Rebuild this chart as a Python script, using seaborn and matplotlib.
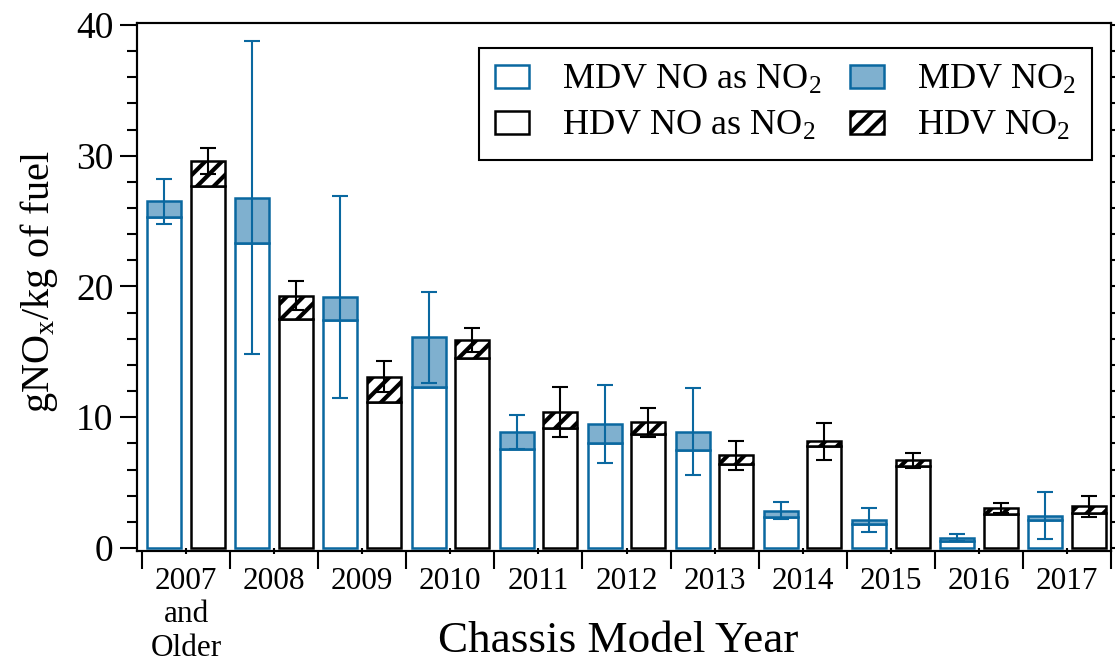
import numpy as np
import pandas as pd
import matplotlib
matplotlib.use("Agg")
import matplotlib.pyplot as plt
from matplotlib.patches import Patch
from matplotlib.ticker import MultipleLocator
import seaborn as sns

# ---- data ----
years = ["2007\nand\nOlder", "2008", "2009", "2010", "2011", "2012",
         "2013", "2014", "2015", "2016", "2017"]
mdv_no = [25.3, 23.3, 17.4, 12.3, 7.6, 8.0, 7.5, 2.4, 1.85, 0.55, 2.15]
mdv_no2 = [1.2, 3.5, 1.8, 3.8, 1.27, 1.5, 1.4, 0.45, 0.3, 0.25, 0.3]
mdv_err = [1.7, 12.0, 7.7, 3.45, 1.3, 3.0, 3.3, 0.65, 0.9, 0.3, 1.8]
hdv_no = [27.7, 17.5, 11.2, 14.5, 9.2, 8.7, 6.4, 7.8, 6.3, 2.6, 2.7]
hdv_no2 = [1.9, 1.8, 1.9, 1.4, 1.2, 0.9, 0.7, 0.35, 0.4, 0.45, 0.5]
hdv_err = [1.0, 1.1, 1.2, 0.9, 1.9, 1.1, 1.1, 1.4, 0.55, 0.4, 0.8]
legend_labels = [r"MDV NO as NO$_\mathrm{2}$", r"HDV NO as NO$_\mathrm{2}$",
                 r"MDV NO$_\mathrm{2}$", r"HDV NO$_\mathrm{2}$"]

BLUE = "#0a68a0"
LIGHT = "#7fb0cf"

sns.set_theme(style="ticks")
plt.rcParams["font.family"] = ["Liberation Serif", "DejaVu Serif"]
plt.rcParams["mathtext.fontset"] = "custom"
plt.rcParams["mathtext.rm"] = "Liberation Serif"
plt.rcParams["mathtext.it"] = "Liberation Serif:italic"
plt.rcParams["hatch.linewidth"] = 3.0
plt.rcParams["axes.linewidth"] = 1.5
for k in ["axes.edgecolor", "xtick.color", "ytick.color", "text.color", "axes.labelcolor"]:
    plt.rcParams[k] = "black"

fig = plt.figure(figsize=(11.15, 6.64), dpi=100)
ax = fig.add_axes([0.1229, 0.1702, 0.8735, 0.7952])

df = pd.DataFrame({
    "year": years * 2,
    "type": ["MDV"] * len(years) + ["HDV"] * len(years),
    "no": mdv_no + hdv_no,
})
sns.barplot(data=df, x="year", y="no", hue="type", hue_order=["MDV", "HDV"],
            order=years, palette={"MDV": "white", "HDV": "white"},
            width=0.99, gap=0.22, dodge=True, edgecolor="black", linewidth=1.8,
            legend=False, errorbar=None, saturation=1, ax=ax)

patches = sorted(ax.patches, key=lambda p: p.get_x())
mdv_p = patches[0::2]
hdv_p = patches[1::2]
for p in mdv_p:
    p.set_edgecolor(BLUE)

x_mdv = [p.get_x() + p.get_width() / 2 for p in mdv_p]
x_hdv = [p.get_x() + p.get_width() / 2 for p in hdv_p]
w = mdv_p[0].get_width()

ax.bar(x_mdv, mdv_no2, width=w, bottom=mdv_no, facecolor=LIGHT,
       edgecolor=BLUE, linewidth=1.8)
ax.bar(x_hdv, hdv_no2, width=w, bottom=hdv_no, facecolor="white",
       edgecolor="black", linewidth=1.8, hatch="//")

mdv_tot = np.add(mdv_no, mdv_no2)
hdv_tot = np.add(hdv_no, hdv_no2)
ax.errorbar(x_mdv, mdv_tot, yerr=mdv_err, fmt="none", ecolor=BLUE,
            elinewidth=1.5, capsize=5.5, capthick=1.5, zorder=5)
ax.errorbar(x_hdv, hdv_tot, yerr=hdv_err, fmt="none", ecolor="black",
            elinewidth=1.5, capsize=5.5, capthick=1.5, zorder=5)

ax.set_xlim(-0.557, 10.49)
ax.set_ylim(-0.23, 40.15)

ax.set_yticks([0, 10, 20, 30, 40])
ax.yaxis.set_minor_locator(MultipleLocator(2))
ax.tick_params(axis="y", which="major", length=12, width=1.5, labelsize=27,
               pad=5, direction="out")
ax.tick_params(axis="y", which="minor", length=7, width=1.5, direction="out")

ax.set_xticks(range(len(years)))
ax.set_xticklabels(years, linespacing=1.2)
ax.set_xticks(np.arange(-0.5, len(years), 1), minor=True)
ax.tick_params(axis="x", which="major", length=5, width=1.5, labelsize=22.5,
               pad=9, direction="inout")
ax.tick_params(axis="x", which="minor", length=13, width=1.5, direction="out")

ax.set_xlabel("Chassis Model Year", fontsize=32.5)
ax.xaxis.set_label_coords(0.494, -0.133)
ax.set_ylabel(r"gNO$_\mathrm{x}$/kg of fuel", fontsize=29)
ax.yaxis.set_label_coords(-0.079, 0.509)

for s in ax.spines.values():
    s.set_linewidth(1.5)
    s.set_color("black")

ax2 = ax.twinx()
ax2.set_ylim(ax.get_ylim())
ax2.set_yticks(np.arange(0, 41, 2))
ax2.set_yticklabels([])
ax2.tick_params(axis="y", length=6, width=1.5, direction="out")
for s in ax2.spines.values():
    s.set_linewidth(1.5)

handles = [
    Patch(facecolor="white", edgecolor=BLUE, linewidth=1.8),
    Patch(facecolor="white", edgecolor="black", linewidth=1.8),
    Patch(facecolor=LIGHT, edgecolor=BLUE, linewidth=1.8),
    Patch(facecolor="white", edgecolor="black", linewidth=1.8, hatch="//"),
]
leg = ax.legend(handles, legend_labels, ncol=2, loc="upper right",
                bbox_to_anchor=(0.9805, 0.9527), borderaxespad=0, fontsize=26,
                frameon=True, fancybox=False, edgecolor="black", framealpha=1,
                handlelength=0.95, handleheight=0.6, handletextpad=0.9,
                columnspacing=0.8, borderpad=0.45, labelspacing=0.36)
leg.get_frame().set_linewidth(1.5)
leg.set_zorder(10)

fig.savefig("out.png", dpi=100)
